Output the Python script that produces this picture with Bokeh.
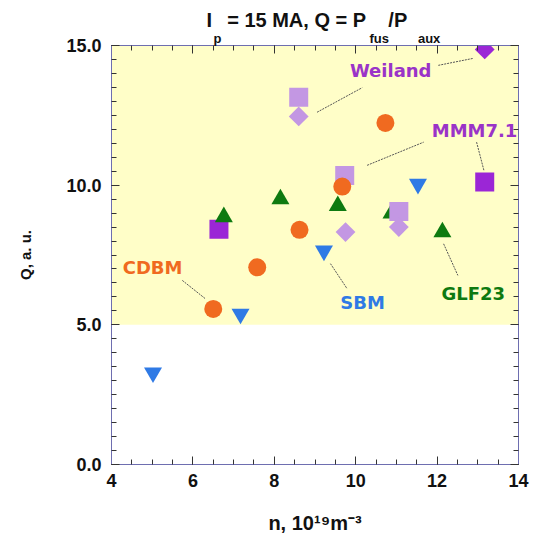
import numpy as np
from bokeh.plotting import figure
from bokeh.models import (Range1d, LinearAxis, FixedTicker, PrintfTickFormatter,
                          BoxAnnotation, Label, Title)
from bokeh.embed import file_html
from bokeh.resources import INLINE

# ---------------- data ----------------
cdbm_n = [6.50, 7.58, 8.62, 9.67, 10.73]
cdbm_q = [5.57, 7.06, 8.40, 9.95, 12.23]

sbm_n = [5.02, 7.17, 9.22, 11.53]
sbm_q = [3.29, 5.39, 7.65, 10.04]

glf_n = [6.76, 8.15, 9.56, 10.88, 12.13]
glf_q = [8.86, 9.50, 9.26, 8.99, 8.32]

mmm_dark_n = [6.64, 13.17]
mmm_dark_q = [8.42, 10.11]
mmm_light_n = [8.60, 9.73, 11.06]
mmm_light_q = [13.15, 10.35, 9.06]

weiland_dark_n = [13.17]
weiland_dark_q = [14.86]
weiland_light_n = [8.60, 9.75, 11.06]
weiland_light_q = [12.46, 8.32, 8.50]

x_ticks = [4, 6, 8, 10, 12, 14]
y_ticks = [0, 5, 10, 15]

# leader lines (x0, y0, x1, y1)
lead_x0 = [5.74, 9.05, 12.03, 10.28, 12.97, 9.38, 12.16]
lead_y0 = [6.59, 12.61, 14.29, 10.71, 11.54, 7.19, 7.90]
lead_x1 = [6.31, 10.16, 12.89, 11.67, 13.15, 9.79, 12.51]
lead_y1 = [5.93, 13.49, 14.54, 11.54, 10.53, 6.29, 6.77]

NB = "\u00a0"
THIN = "\u2009"
title_main = "I" + NB * 2 + THIN + "= 15 MA, Q = P" + NB * 4 + "/P"
title_subs = "p" + NB * 41 + "fus" + NB * 8 + "aux"
x_title = "n, 10\u00b9\u2079m\u207b\u00b3"
y_title = "Q, a. u."

ORANGE = "#F06A20"
BLUE = "#2F7AE5"
GREEN = "#0E7A10"
DVIOLET = "#9B26D6"
LPURPLE = "#C397E3"
TVIOLET = "#9A33C8"

p = figure(width=535, height=538, x_range=Range1d(4, 14), y_range=Range1d(0, 15),
           output_backend="svg", toolbar_location=None,
           min_border_left=111, min_border_right=17, min_border_top=45,
           min_border_bottom=74)
p.background_fill_color = "white"
p.border_fill_color = "white"
p.outline_line_color = "#6E6EB0"
p.grid.visible = False

p.add_layout(BoxAnnotation(bottom=5, top=15, fill_color="#FFFEC8", fill_alpha=1.0,
                           line_color=None, level="underlay"))

AX = "#6E6EB0"
TK = "#333333"

def style_axis(ax, labels=True):
    ax.axis_line_color = AX
    ax.major_tick_line_color = TK
    ax.minor_tick_line_color = TK
    ax.major_tick_in = 8
    ax.major_tick_out = 0
    ax.minor_tick_in = 5
    ax.minor_tick_out = 0
    ax.major_label_text_font = "Liberation Sans"
    ax.major_label_text_font_style = "bold"
    ax.major_label_text_font_size = "18px"
    ax.major_label_text_color = "#111111"
    if not labels:
        ax.major_label_text_font_size = "0px"
        ax.major_label_standoff = 0

p.xaxis.ticker = FixedTicker(ticks=x_ticks, minor_ticks=list(np.arange(4, 14.01, 0.5)))
p.xaxis.formatter = PrintfTickFormatter(format="%d")
p.xaxis.major_label_standoff = 9
p.yaxis.ticker = FixedTicker(ticks=y_ticks, minor_ticks=list(np.arange(0, 15.01, 0.5)))
p.yaxis.formatter = PrintfTickFormatter(format="%.1f")
p.yaxis.major_label_standoff = 10
style_axis(p.xaxis[0])
style_axis(p.yaxis[0])

p.xaxis.axis_label = x_title
p.xaxis.axis_label_text_font = "Liberation Sans"
p.xaxis.axis_label_text_font_style = "bold"
p.xaxis.axis_label_text_font_size = "20px"
p.xaxis.axis_label_text_color = "#111111"
p.xaxis.axis_label_standoff = 22

p.yaxis.axis_label = y_title
p.yaxis.axis_label_text_font = "Liberation Sans"
p.yaxis.axis_label_text_font_style = "bold"
p.yaxis.axis_label_text_font_size = "15px"
p.yaxis.axis_label_text_color = "#111111"
p.yaxis.axis_label_standoff = 29

top_ax = LinearAxis(ticker=FixedTicker(ticks=x_ticks, minor_ticks=list(np.arange(4, 14.01, 0.5))),
                    major_label_overrides={t: "" for t in x_ticks})
right_ax = LinearAxis(ticker=FixedTicker(ticks=y_ticks, minor_ticks=list(np.arange(0, 15.01, 0.5))),
                      major_label_overrides={t: "" for t in y_ticks})
style_axis(top_ax, labels=False)
style_axis(right_ax, labels=False)
p.add_layout(top_ax, "above")
p.add_layout(right_ax, "right")

# title: subscripts row (nearest the frame) and main row above it
p.add_layout(Title(text=title_subs, align="left", offset=102, standoff=0,
                   text_font="Liberation Sans", text_font_style="bold",
                   text_font_size="13px", text_color="#111111"), "above")
p.title.text = title_main
p.title.align = "left"
p.title.offset = 95
p.title.standoff = -5
p.title.text_font = "Liberation Sans"
p.title.text_font_style = "bold"
p.title.text_font_size = "20px"
p.title.text_color = "#111111"

# leader lines
p.segment(lead_x0, lead_y0, lead_x1, lead_y1, line_color="#555555", line_width=1,
          line_dash="2 1")

# markers
p.scatter(mmm_dark_n, mmm_dark_q, marker="square", size=19, fill_color=DVIOLET, line_color=None)
p.scatter(glf_n, glf_q, marker="triangle", size=18, fill_color=GREEN, line_color=None)
p.scatter(mmm_light_n, mmm_light_q, marker="square", size=19, fill_color=LPURPLE, line_color=None)
p.scatter(weiland_light_n, weiland_light_q, marker="square", angle=np.pi / 4, size=14,
          fill_color=LPURPLE, line_color=None)
p.scatter(weiland_dark_n, weiland_dark_q, marker="square", angle=np.pi / 4, size=14,
          fill_color=DVIOLET, line_color=None)
p.scatter(cdbm_n, cdbm_q, marker="circle", size=18, fill_color=ORANGE, line_color=None)
p.scatter(sbm_n, sbm_q, marker="inverted_triangle", size=18, fill_color=BLUE, line_color=None)

# series labels
def add_label(x, y, text, color):
    p.add_layout(Label(x=x, y=y, text=text, text_color=color, text_font="DejaVu Sans",
                       text_font_style="bold", text_font_size="18px", text_align="center",
                       text_baseline="middle"))

add_label(10.86, 14.11, "Weiland", TVIOLET)
add_label(12.92, 11.96, "MMM7.1", TVIOLET)
add_label(5.01, 7.05, "CDBM", ORANGE)
add_label(10.17, 5.80, "SBM", BLUE)
add_label(12.89, 6.12, "GLF23", GREEN)

open("out.html", "w").write(file_html(p, INLINE))
